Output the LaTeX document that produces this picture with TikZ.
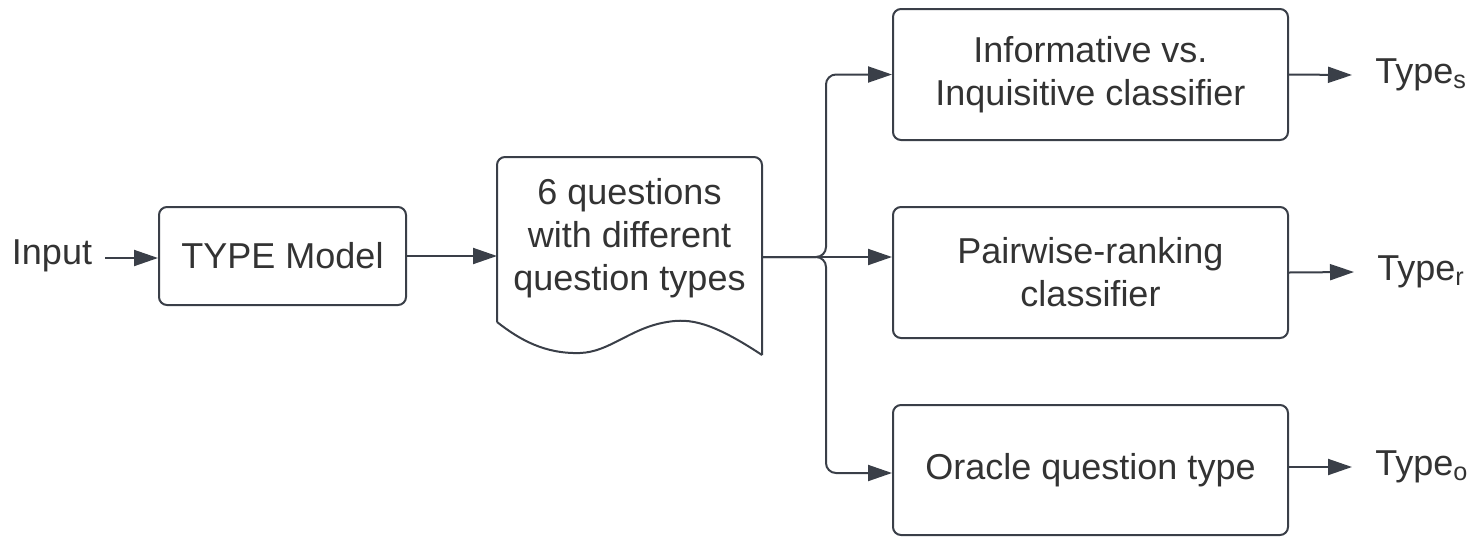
\documentclass[tikz,border=0pt]{standalone}
\usepackage{fontspec}
\setmainfont{Liberation Sans}
\usetikzlibrary{arrows.meta}
\definecolor{ln}{HTML}{3A3F48}
\definecolor{tx}{HTML}{333333}
\begin{document}
\begin{tikzpicture}[x=0.5pt,y=-0.5pt,
  font=\fontsize{18}{21.5}\selectfont, text=tx,
  box/.style={draw=ln, line width=1pt, rounded corners=4pt, align=center, inner sep=0pt},
  conn/.style={draw=ln, line width=1pt, -{Triangle[length=12pt,width=8pt]}},
  plain/.style={draw=ln, line width=1pt},
  typelbl/.style={anchor=west, inner sep=11.5pt}]
\useasboundingbox (0,0) rectangle (1474,537);
% nodes
\node[anchor=center] (in) at (52,256) {Input};
\node[box, minimum width=123.5pt, minimum height=49pt] (tm) at (282.5,256) {TYPE Model};
% document shape
\draw[plain, rounded corners=4pt] (497,322) -- (497,157) -- (762,157) -- (762,355);
\draw[plain] (762,355) .. controls (712,322) and (690,318) .. (667,322)
   .. controls (630,328) and (610,352) .. (580,353)
   .. controls (545,354) and (520,340) .. (497,322);
\node[align=center, minimum width=132.5pt, inner sep=0pt] (doc) at (629.5,238)
  {6 questions\\with different\\question types};
\coordinate (docl) at (497,257);
\coordinate (docr) at (762,257);
\node[box, minimum width=197.5pt, minimum height=65.5pt] (b1) at (1090.5,74.5) {Informative vs.\\Inquisitive classifier};
\node[box, minimum width=197.5pt, minimum height=65.5pt] (b2) at (1090.5,272.5) {Pairwise-ranking\\classifier};
\node[box, minimum width=197.5pt, minimum height=65pt] (b3) at (1090.5,470) {Oracle question type};
\node[typelbl] (ts) at (1352,75) {Type\textsubscript{s}};
\node[typelbl] (tr) at (1354,272) {Type\textsubscript{r}};
\node[typelbl] (to) at (1352,467) {Type\textsubscript{o}};
\coordinate (j) at (826,257);
% connectors
\draw[conn] (in.east) ++(6,2) coordinate (ine) -- (tm.west |- ine);
\draw[conn] (tm.east) -- (tm.east -| docl);
\draw[conn, rounded corners=5pt] (docr) -- (j) |- (b1.west);
\draw[conn] (docr) -- (docr -| b2.west);
\draw[conn, rounded corners=5pt] (docr) -- (j) |- ([yshift=-1.5pt]b3.west);
\draw[conn] (b1.east) -- (ts.west);
\draw[conn] (b2.east) -- (tr.west);
\draw[conn] ([yshift=1.5pt]b3.east) -- ([yshift=1.5pt]b3.east -| to.west);
\end{tikzpicture}
\end{document}
